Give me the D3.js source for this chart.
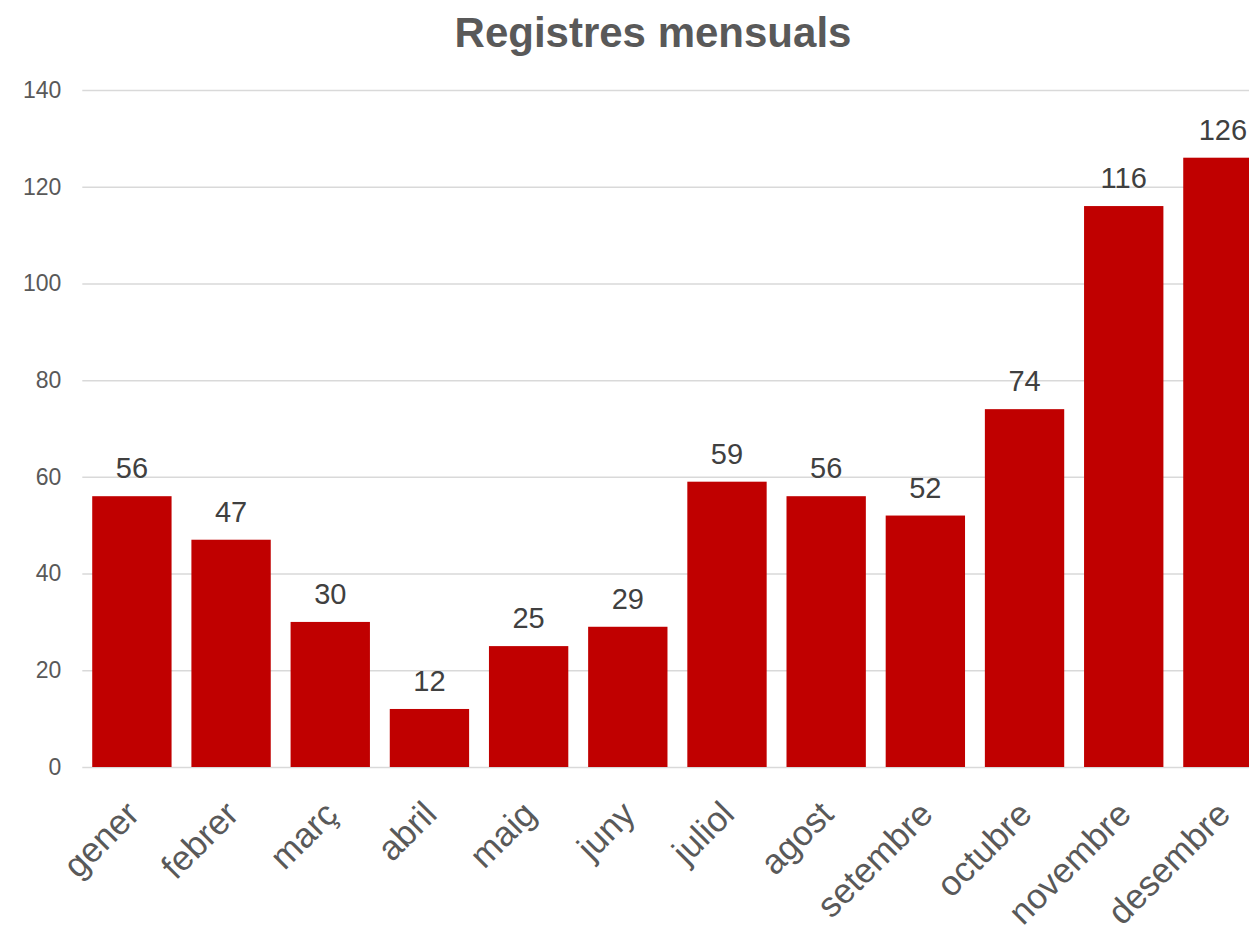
<!DOCTYPE html>
<html><head><meta charset="utf-8">
<script src="https://cdn.jsdelivr.net/npm/d3@7"></script>
<style>html,body{margin:0;padding:0;background:#fff;overflow:hidden}</style>
</head><body>
<script>
const categories = ["gener","febrer","març","abril","maig","juny","juliol","agost","setembre","octubre","novembre","desembre"];
const values = [56,47,30,12,25,29,59,56,52,74,116,126];
const yTicks = [0,20,40,60,80,100,120,140];
const title = "Registres mensuals";

const W = 1249, H = 933;
const svg = d3.select("body").append("svg").attr("width", W).attr("height", H)
  .style("font-family", "Arial, 'Liberation Sans', sans-serif");

const x = d3.scaleBand().domain(categories).range([82.3, 1272.5]).paddingInner(0.2).paddingOuter(0.1);
const y = d3.scaleLinear().domain([0, 140]).range([767, 90]);

svg.append("text").attr("x", 653).attr("y", 47).attr("text-anchor", "middle")
  .attr("font-size", 42).attr("font-weight", "bold").attr("fill", "#595959").text(title);

const yAxis = svg.append("g").attr("transform", "translate(82.3,0)")
  .call(d3.axisLeft(y).tickValues(yTicks).tickSize(-(1272.5 - 82.3)).tickPadding(21));
yAxis.select(".domain").remove();
yAxis.selectAll(".tick line").attr("stroke", "#d9d9d9").attr("stroke-width", 1.5);
yAxis.selectAll(".tick text").attr("font-size", 23).attr("fill", "#595959")
  .attr("font-family", "Arial, 'Liberation Sans', sans-serif");

svg.append("g").selectAll("rect").data(values).join("rect")
  .attr("x", (d, i) => x(categories[i])).attr("width", x.bandwidth())
  .attr("y", d => y(d)).attr("height", d => y(0) - y(d)).attr("fill", "#c00000");

svg.append("g").selectAll("text").data(values).join("text")
  .attr("x", (d, i) => x(categories[i]) + x.bandwidth() / 2)
  .attr("y", d => y(d) - 18).attr("text-anchor", "middle")
  .attr("font-size", 29).attr("fill", "#404040").text(d => d);

const xAxis = svg.append("g").attr("transform", "translate(0,767)")
  .call(d3.axisBottom(x).tickSize(0).tickPadding(0));
xAxis.select(".domain").remove();
xAxis.selectAll(".tick text")
  .attr("font-size", 35).attr("fill", "#595959")
  .attr("font-family", "Arial, 'Liberation Sans', sans-serif")
  .attr("text-anchor", "end")
  .attr("transform", "translate(-8,32) rotate(-45)")
  .attr("y", 0).attr("x", 0).attr("dy", "0.7em");
</script>
</body></html>
